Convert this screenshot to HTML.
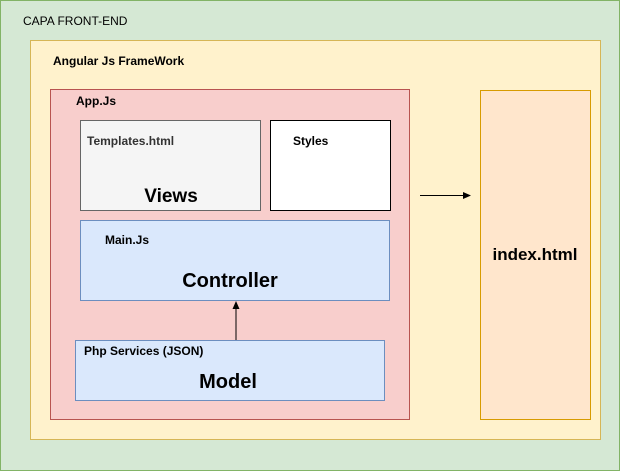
<!DOCTYPE html>
<html><head><style>body{margin:0;background:#fff}svg{display:block}text{font-family:"Liberation Sans",Arial,sans-serif}</style></head><body>
<svg width="621" height="472" viewBox="0 0 621 472" xmlns="http://www.w3.org/2000/svg">
<rect x="0.5" y="0.5" width="619" height="470" fill="#d5e8d4" stroke="#82b366"/>
<text x="23" y="25" font-size="12" fill="#000">CAPA FRONT-END</text>
<rect x="30.5" y="40.5" width="570" height="399" fill="#fff2cc" stroke="#d6b656"/>
<text x="53" y="65" font-size="12" font-weight="bold">Angular Js FrameWork</text>
<rect x="50.5" y="89.5" width="359" height="330" fill="#f8cecc" stroke="#b85450"/>
<text x="76" y="105" font-size="12" font-weight="bold">App.Js</text>
<rect x="80.5" y="120.5" width="180" height="90" fill="#f5f5f5" stroke="#666"/>
<text x="87" y="145" font-size="12" font-weight="bold" fill="#333">Templates.html</text>
<text x="171" y="202" font-size="19" font-weight="bold" text-anchor="middle">Views</text>
<rect x="270.5" y="120.5" width="120" height="90" fill="#fff" stroke="#000"/>
<text x="293" y="145" font-size="12" font-weight="bold">Styles</text>
<rect x="80.5" y="220.5" width="309" height="80" fill="#dae8fc" stroke="#6c8ebf"/>
<text x="105" y="244" font-size="12" font-weight="bold">Main.Js</text>
<text x="230" y="287" font-size="20" font-weight="bold" text-anchor="middle">Controller</text>
<rect x="75.5" y="340.5" width="309" height="60" fill="#dae8fc" stroke="#6c8ebf"/>
<text x="84" y="355" font-size="12" font-weight="bold">Php Services (JSON)</text>
<text x="228" y="388" font-size="20" font-weight="bold" text-anchor="middle">Model</text>
<line x1="236" y1="340" x2="236" y2="308" stroke="#000"/>
<polygon points="236,301 232.5,309 239.5,309" fill="#000"/>
<rect x="480.5" y="90.5" width="110" height="329" fill="#ffe6cc" stroke="#d79b00"/>
<text x="535" y="260" font-size="17" font-weight="bold" text-anchor="middle">index.html</text>
<line x1="420" y1="195.5" x2="464" y2="195.5" stroke="#000"/>
<polygon points="471,195.5 463,192 463,199" fill="#000"/>
</svg>
</body></html>
